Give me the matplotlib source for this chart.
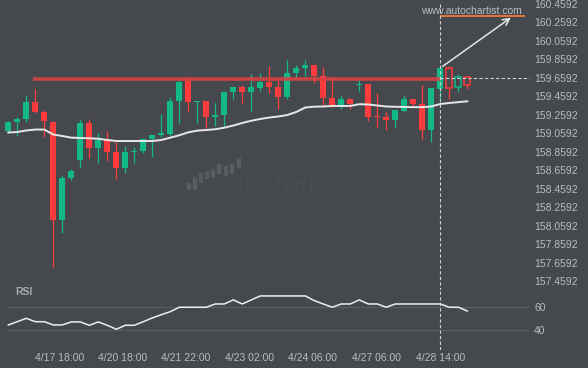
import numpy as np
import matplotlib
matplotlib.use('Agg')
import matplotlib.pyplot as plt
from matplotlib.patches import Rectangle

plt.rcParams['font.family'] = ['Liberation Sans', 'DejaVu Sans']

# 4h candles
opens = [159.086, 159.187, 159.216, 159.400, 159.292, 159.183, 158.124, 158.581, 158.776, 159.173,
         158.906, 158.989, 158.859, 158.689, 158.862, 158.873, 159.001, 159.046, 159.057, 159.414,
         159.627, 159.403, 159.407, 159.241, 159.259, 159.511, 159.562, 159.508, 159.554, 159.616,
         159.562, 159.454, 159.713, 159.771, 159.800, 159.681, 159.440, 159.371, 159.429, 159.585,
         159.594, 159.245, 159.234, 159.208, 159.306, 159.429, 159.381, 159.097, 159.540, 159.764,
         159.559, 159.667]
highs = [159.190, 159.241, 159.475, 159.537, 159.313, 159.194, 158.607, 158.672, 159.213, 159.213,
         159.061, 159.086, 158.971, 158.927, 158.916, 159.007, 159.043, 159.267, 159.451, 159.638,
         159.645, 159.410, 159.410, 159.386, 159.522, 159.562, 159.584, 159.702, 159.713, 159.789,
         159.638, 159.854, 159.800, 159.854, 159.800, 159.781, 159.667, 159.472, 159.429, 159.638,
         159.594, 159.494, 159.288, 159.310, 159.472, 159.429, 159.584, 159.551, 159.770, 159.789,
         159.702, 159.667]
lows = [159.080, 159.035, 159.187, 159.278, 159.018, 157.613, 157.980, 158.553, 158.690, 158.798,
        158.737, 158.765, 158.564, 158.629, 158.737, 158.845, 158.808, 159.025, 159.032, 159.176,
        159.295, 159.176, 159.115, 159.140, 159.133, 159.429, 159.392, 159.302, 159.522, 159.500,
        159.321, 159.435, 159.659, 159.684, 159.608, 159.367, 159.349, 159.321, 159.327, 159.508,
        159.198, 159.133, 159.097, 159.115, 159.292, 159.357, 158.997, 158.971, 159.421, 159.429,
        159.511, 159.537]
closes = [159.184, 159.213, 159.400, 159.292, 159.194, 158.124, 158.578, 158.654, 159.173, 158.906,
          158.989, 158.862, 158.689, 158.859, 158.873, 158.997, 159.040, 159.065, 159.411, 159.613,
          159.403, 159.408, 159.241, 159.256, 159.508, 159.562, 159.511, 159.562, 159.616, 159.565,
          159.454, 159.713, 159.767, 159.800, 159.684, 159.446, 159.367, 159.429, 159.378, 159.590,
          159.241, 159.240, 159.208, 159.310, 159.429, 159.381, 159.097, 159.551, 159.767, 159.554,
          159.667, 159.587]

ma = [159.070, 159.075, 159.092, 159.102, 159.102, 159.048, 159.032, 159.014, 159.011, 159.007,
      159.003, 158.989, 158.978, 158.978, 158.978, 158.978, 158.978, 158.989, 159.014, 159.040,
      159.072, 159.090, 159.097, 159.105, 159.122, 159.145, 159.173, 159.197, 159.216, 159.232,
      159.243, 159.259, 159.292, 159.340, 159.349, 159.351, 159.357, 159.357, 159.357, 159.376,
      159.373, 159.362, 159.351, 159.348, 159.346, 159.344, 159.344, 159.351, 159.378, 159.389,
      159.398, 159.407]

rsi = [44.3, 47.1, 50.0, 47.1, 47.1, 44.3, 44.3, 46.9, 46.9, 44.0,
       46.9, 44.0, 40.6, 44.0, 44.0, 47.1, 50.3, 53.1, 55.7, 59.5,
       59.5, 59.5, 59.5, 62.3, 62.3, 65.8, 62.3, 65.8, 69.2, 69.2,
       69.2, 69.2, 69.2, 69.2, 65.2, 62.3, 59.5, 62.3, 62.3, 65.8,
       62.3, 62.3, 59.5, 62.3, 62.3, 62.3, 62.3, 62.3, 62.3, 59.5,
       59.5, 56.3]

x_tick_pos = [5.65, 12.7, 19.75, 26.8, 33.85, 40.9, 48.0]
x_tick_labels = ['4/17 18:00', '4/20 18:00', '4/21 22:00', '4/23 02:00',
                 '4/24 06:00', '4/27 06:00', '4/28 14:00']
price_ticks = [157.4592 + 0.2 * k for k in range(16)]

resistance = 159.648
resistance_start = 2.74
signal_idx = 48          # pattern completion candle
target_price = 160.329
target_idx = 56.1
target_end = 57.4
last_price = 159.6592

bg = '#45494e'
green = '#12b886'
red = '#fe3b3d'
txt = '#b9bcc1'

fig = plt.figure(figsize=(5.88, 3.68), dpi=100, facecolor=bg)
W, H = 588.0, 368.0
xlim = (-0.922, 57.97)

ax = fig.add_axes([0, (H - 290) / H, 530 / W, 290 / H], facecolor=bg)
ax_rsi = fig.add_axes([0, (H - 350) / H, 530 / W, 60 / H], facecolor=bg)

# watermark
wm = '#585c61'
bars = [(187, 183, 189), (193, 177, 189), (199, 173, 182), (205, 172, 178), (211, 169, 176),
        (217, 164, 173), (224, 166, 175), (230, 164, 173), (237, 158, 167)]
for bx, top, bot in bars:
    ax.add_patch(Rectangle((bx / W, 1 - bot / H), 3 / W, (bot - top) / H,
                           transform=fig.transFigure, color=wm, zorder=1))
ax.text(221 / W, 1 - 192.5 / H, 'autochartist', transform=fig.transFigure, color='#5e6267',
        fontsize=17, family=['Lato', 'DejaVu Sans'], weight='light',
        ha='left', va='baseline', zorder=1)

x = np.arange(len(opens))
w = 0.68
for i in x:
    o, h, l, c = opens[i], highs[i], lows[i], closes[i]
    col = green if c >= o else red
    lo_b, hi_b = min(o, c), max(o, c)
    if hi_b - lo_b < 0.012:
        hi_b = lo_b + 0.012
    ax.vlines(i, l, h, color=col, lw=0.9, zorder=2)
    if i > signal_idx:
        ax.bar(i, hi_b - lo_b, w, bottom=lo_b, facecolor=bg, edgecolor=col, lw=1.1, zorder=3)
    else:
        ax.bar(i, hi_b - lo_b, w, bottom=lo_b, color=col, lw=0, zorder=3)

ax.plot(x, ma, color='#e8e8e8', lw=1.4, zorder=4)

ax.hlines(resistance, resistance_start, signal_idx, color='#d94343', lw=2.6, alpha=0.9, zorder=5)
ax.hlines(last_price, signal_idx, xlim[1], color='#d0d0d0', lw=0.8, linestyles=(0, (3, 2)), zorder=5)
ax.hlines(target_price, signal_idx, target_end, color='#ff7f2a', lw=1.2, zorder=5)
ax.annotate('', xy=(target_idx, target_price), xytext=(signal_idx, closes[signal_idx]),
            arrowprops=dict(arrowstyle='->', color='#e6e6e6', lw=1.1, mutation_scale=12), zorder=6)
ax.vlines(signal_idx, 157.0, 160.46, color='#d0d0d0', lw=0.8, linestyles=(0, (3, 2)), zorder=5)
ax.text(471.5 / 530, 1 - 11.5 / 290, 'www.autochartist.com', transform=ax.transAxes,
        color=txt, fontsize=7.5, ha='center', va='center')

ax.set_xlim(*xlim)
ax.set_ylim(157.3673, 160.5024)
ax.yaxis.tick_right()
ax.set_yticks(price_ticks)
ax.set_yticklabels(['%.4f' % p for p in price_ticks])
ax.tick_params(axis='y', length=0, pad=3, labelsize=7.5, labelcolor=txt)
ax.set_xticks([])
for s in ax.spines.values():
    s.set_visible(False)

# RSI panel
ax_rsi.axhline(60, xmin=7 / 530, color='#5b5f64', lw=0.8)
ax_rsi.axhline(40, xmin=7 / 530, color='#5b5f64', lw=0.8)
ax_rsi.plot(x, rsi, color='#eeeeee', lw=1.1)
ax_rsi.axvline(signal_idx, color='#d0d0d0', lw=0.8, linestyle=(0, (3, 2)))
ax_rsi.text(15 / 530, 1 + 3 / 60, 'RSI', transform=ax_rsi.transAxes,
            color='#a7aab0', fontsize=7.5, weight='bold', ha='left', va='top')
ax_rsi.set_xlim(*xlim)
ax_rsi.set_ylim(22.8, 74.3)
ax_rsi.yaxis.tick_right()
ax_rsi.set_yticks([40, 60])
ax_rsi.tick_params(axis='y', length=0, pad=3, labelsize=7.5, labelcolor=txt)
ax_rsi.set_xticks(x_tick_pos)
ax_rsi.set_xticklabels(x_tick_labels)
ax_rsi.tick_params(axis='x', length=0, pad=2.5, labelsize=7.5, labelcolor=txt)
for s in ax_rsi.spines.values():
    s.set_visible(False)

fig.savefig('out.png', dpi=100, facecolor=bg)
